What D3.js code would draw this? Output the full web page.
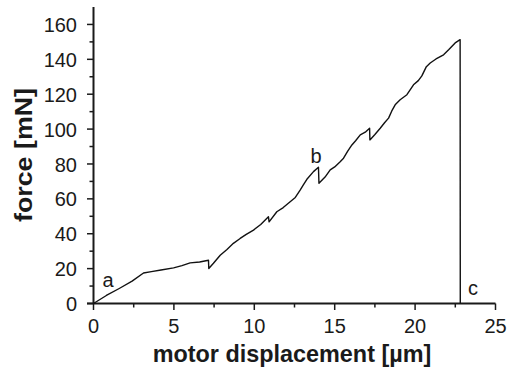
<!DOCTYPE html>
<html><head><meta charset="utf-8">
<script src="https://cdn.jsdelivr.net/npm/d3@7"></script>
<style>body{margin:0;background:#fff}svg{display:block}text{font-family:"Liberation Sans",Arial,Helvetica,sans-serif;fill:#1a1a1a}</style>
</head><body><svg id="c" width="513" height="376"></svg>
<script>
const xs = [0, 0.8, 1.6, 2.4, 3.11, 3.6, 4.2, 4.98, 5.5, 6.01, 6.6, 7.15, 7.17, 7.46, 7.88, 8.3, 8.7, 9.12, 9.5, 9.95, 10.4, 10.88, 10.92, 11.4, 11.8, 12.23, 12.55, 12.85, 13.05, 13.27, 13.68, 13.99, 14.02, 14.4, 14.72, 15.0, 15.34, 15.55, 15.8, 16.07, 16.3, 16.59, 16.9, 17.17, 17.19, 17.5, 17.83, 18.1, 18.35, 18.55, 18.76, 19.07, 19.49, 19.9, 20.2, 20.42, 20.7, 20.94, 21.3, 21.77, 22.1, 22.49, 22.8, 22.81];
const ys = [0, 4.6, 8.6, 12.8, 17.5, 18.3, 19.2, 20.4, 21.7, 23.3, 23.8, 24.8, 20.1, 23.1, 27.7, 31.0, 34.5, 37.3, 39.6, 42.1, 45.3, 49.7, 46.8, 52.6, 55.0, 58.3, 60.8, 65.0, 68.0, 71.2, 75.6, 78.1, 68.9, 72.5, 76.6, 78.3, 81.3, 83.3, 87.2, 90.9, 93.3, 96.7, 98.2, 100.5, 93.8, 96.9, 100.5, 103.6, 106.3, 110.4, 113.9, 116.8, 119.7, 125.4, 127.8, 130.5, 135.8, 137.9, 140.2, 142.6, 145.6, 149.4, 151.3, 0];
const xTicks = [0, 5, 10, 15, 20, 25];
const yTicks = [0, 20, 40, 60, 80, 100, 120, 140, 160];
const xMinor = [2.5, 7.5, 12.5, 17.5, 22.5];
const yMinor = [10, 30, 50, 70, 90, 110, 130, 150];
const notes = [{t: "a", x: 0.9, y: 9.5}, {t: "b", x: 13.84, y: 80.6}, {t: "c", x: 23.6, y: 4.9}];

const svg = d3.select("#c");
const x = d3.scaleLinear().domain([0, 25]).range([93.5, 495.5]);
const y = d3.scaleLinear().domain([0, 170]).range([303.5, 7]);
const col = "#1a1a1a";

// y axis
const gy = svg.append("g").attr("transform", `translate(${x(0)},0)`);
gy.append("line").attr("y1", y(0)).attr("y2", y(170)).attr("stroke", col).attr("stroke-width", 2);
gy.selectAll(".maj").data(yTicks).join("line").attr("class","maj").attr("x1", -6.5).attr("x2", 0)
  .attr("y1", d => y(d)).attr("y2", d => y(d)).attr("stroke", col).attr("stroke-width", 1.5);
gy.selectAll(".min").data(yMinor).join("line").attr("class","min").attr("x1", -4).attr("x2", 0)
  .attr("y1", d => y(d)).attr("y2", d => y(d)).attr("stroke", col).attr("stroke-width", 1.5);
gy.selectAll("text").data(yTicks).join("text").attr("x", -16.5).attr("y", d => y(d)).attr("dy", "0.38em")
  .attr("text-anchor", "end").attr("font-size", 20).text(d => d);

// x axis
const gx = svg.append("g").attr("transform", `translate(0,${y(0)})`);
gx.append("line").attr("x1", x(0) - 6.5).attr("x2", x(25)).attr("stroke", col).attr("stroke-width", 2);
gx.selectAll(".maj").data(xTicks).join("line").attr("class","maj").attr("x1", d => x(d)).attr("x2", d => x(d))
  .attr("y1", 0).attr("y2", 6.5).attr("stroke", col).attr("stroke-width", 1.5);
gx.selectAll(".min").data(xMinor).join("line").attr("class","min").attr("x1", d => x(d)).attr("x2", d => x(d))
  .attr("y1", 0).attr("y2", 4).attr("stroke", col).attr("stroke-width", 1.5);
gx.selectAll("text").data(xTicks).join("text").attr("x", d => x(d)).attr("y", 29.5)
  .attr("text-anchor", "middle").attr("font-size", 20).text(d => d);

// data line
const pts = xs.map((v, i) => [v, ys[i]]);
svg.append("path").attr("d", d3.line().x(d => x(d[0])).y(d => y(d[1]))(pts))
  .attr("fill", "none").attr("stroke", "#111").attr("stroke-width", 1.4).attr("stroke-linejoin", "round");

svg.selectAll(".note").data(notes).join("text").attr("class","note").attr("x", d => x(d.x)).attr("y", d => y(d.y))
  .attr("text-anchor", "middle").attr("font-size", 20).text(d => d.t);

// titles
svg.append("text").attr("x", 292).attr("y", 362).attr("text-anchor", "middle")
  .attr("font-size", 23.4).attr("font-weight", "bold").text("motor displacement [µm]");
svg.append("text").attr("transform", "translate(32,155) rotate(-90)").attr("text-anchor", "middle")
  .attr("font-size", 23.4).attr("font-weight", "bold")
  .attr("textLength", 134).attr("lengthAdjust", "spacingAndGlyphs").text("force [mN]");
</script></body></html>
